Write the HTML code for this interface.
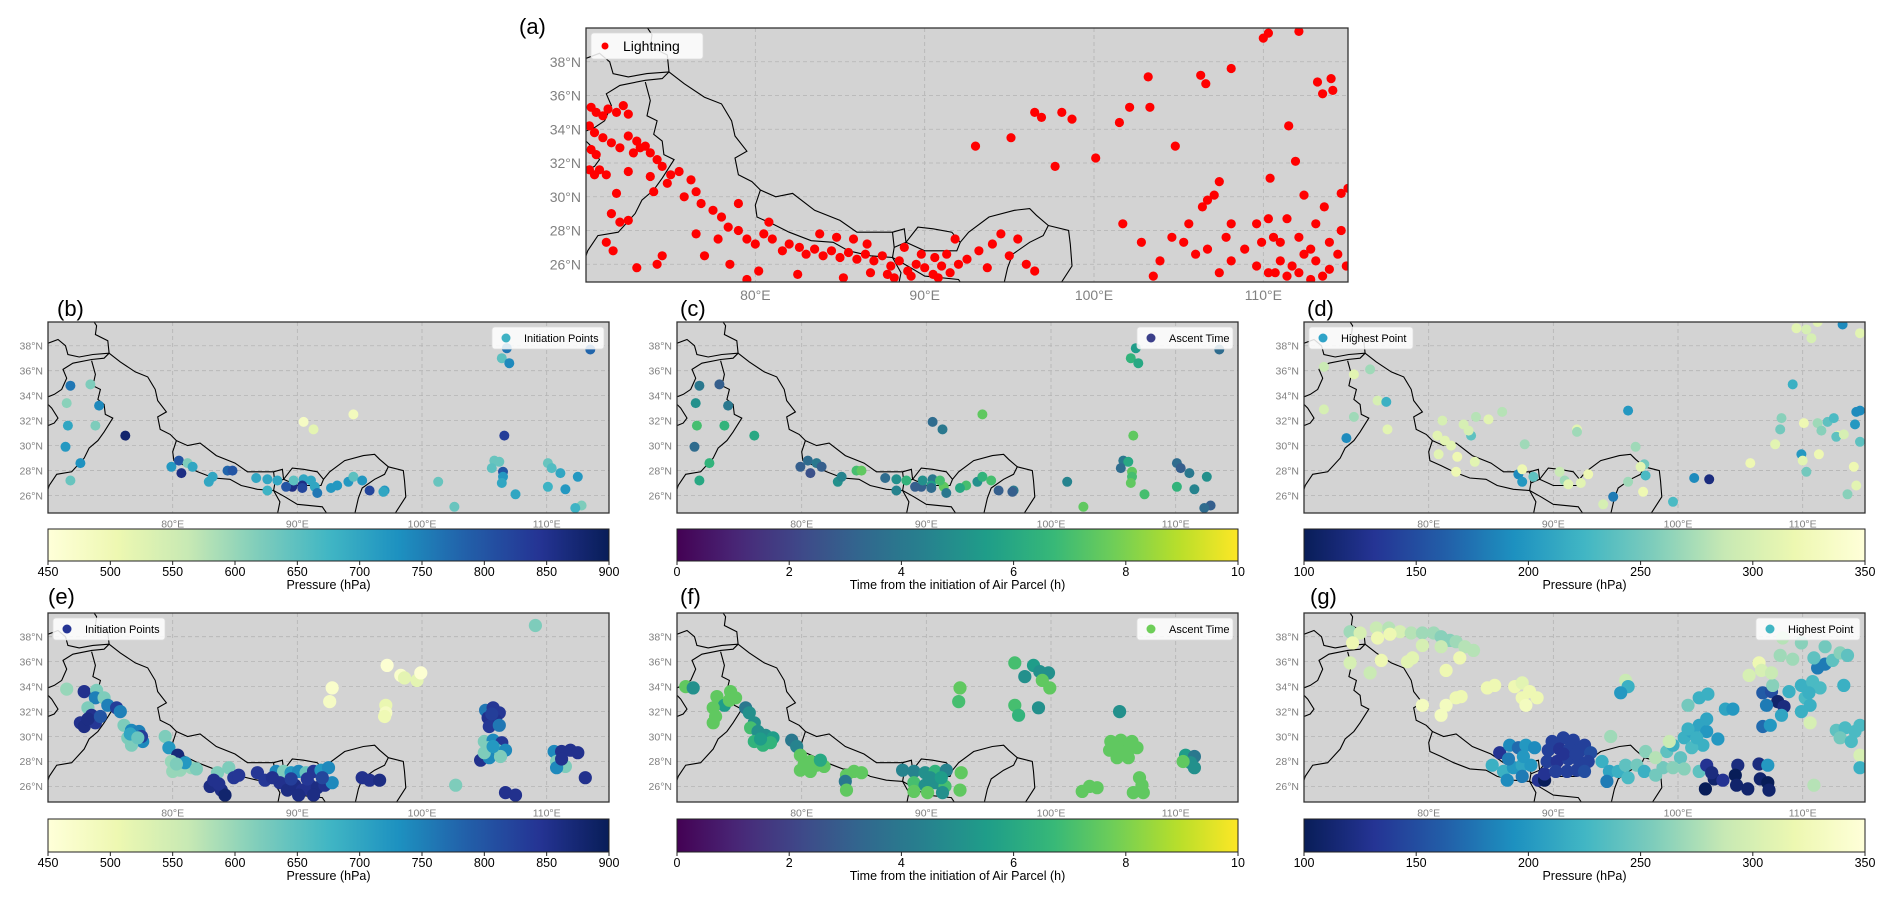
<!DOCTYPE html>
<html><head><meta charset="utf-8">
<style>
html,body{margin:0;padding:0;background:#fff;}
svg{display:block;font-family:"Liberation Sans",sans-serif;}
</style></head>
<body>
<svg id="fig" width="1892" height="903" viewBox="0 0 1892 903" xmlns="http://www.w3.org/2000/svg"></svg>
<script>
// ---------- DATA ----------
const latTicks=[26,28,30,32,34,36,38];
const lonTicks=[80,90,100,110];
const presTicksInit=[450,500,550,600,650,700,750,800,850,900];
const timeTicks=[0,2,4,6,8,10];
const presTicksHigh=[100,150,200,250,300,350];

const lightningPts=[[70.3,35.3],[70.6,35.0],[71.0,34.8],[71.3,35.2],[71.8,35.0],[72.2,35.4],[72.5,34.9],[70.2,34.2],[70.5,33.8],[71.0,33.5],[70.3,32.8],[70.6,32.5],[71.5,33.2],[72.0,32.9],[72.5,33.6],[73.0,33.3],[73.5,33.0],[73.8,32.6],[74.2,32.2],[74.5,31.8],[75.0,31.3],[74.8,30.8],[70.2,31.6],[70.5,31.3],[70.8,31.6],[71.2,31.3],[71.8,30.2],[72.5,31.5],[73.8,31.2],[74.0,30.3],[75.5,31.5],[76.2,31.0],[75.8,30.0],[76.5,30.3],[76.8,29.6],[71.5,29.0],[72.0,28.5],[71.2,27.3],[71.6,26.8],[74.5,26.5],[74.2,26.0],[73.0,25.8],[72.5,28.6],[72.8,32.6],[73.2,32.9],
[77.5,29.2],[78.0,28.8],[78.4,28.2],[79.0,28.0],[79.5,27.5],[80.0,27.2],[80.5,27.8],[81.0,27.5],[81.6,26.8],[82.0,27.2],[82.6,27.0],[83.0,26.6],[83.5,26.9],[84.0,26.5],[84.5,26.8],[85.0,26.4],[85.5,26.7],[86.0,26.3],[86.5,26.6],[87.0,26.2],[87.5,26.5],[88.0,25.9],[88.5,26.2],[89.0,25.6],[89.5,26.0],[90.0,25.8],[90.5,25.4],[91.0,25.9],[91.5,25.5],[92.0,26.0],[89.8,26.6],[90.6,26.4],[91.3,26.6],[85.2,25.2],[86.8,25.5],[88.2,25.2],[82.5,25.4],[80.2,25.6],[78.5,26.0],[77.0,26.5],[79.5,25.1],[83.8,27.8],[84.8,27.6],[85.8,27.5],[86.6,27.2],[92.5,26.3],[93.2,26.8],[94.0,27.2],[94.5,27.8],[95.0,26.5],[95.5,27.5],[96.0,26.0],[96.5,25.6],[91.8,27.5],[88.8,27.0],[93.7,25.8],[77.8,27.5],[76.5,27.8],[79.0,29.6],[80.8,28.5],[89.2,25.3],[90.8,25.2],[87.8,25.4],
[93.0,33.0],[95.1,33.5],[97.7,31.8],[98.1,35.0],[98.7,34.6],[96.5,35.0],[96.9,34.7],[100.1,32.3],[101.5,34.4],[103.3,35.3],[102.1,35.3],[103.2,37.1],[106.3,37.2],[106.6,36.7],[108.1,37.6],[110.0,39.4],[110.3,39.7],[112.1,39.8],[113.2,36.8],[113.5,36.1],[114.1,36.3],[114.0,37.0],[111.5,34.2],[111.9,32.1],[110.4,31.1],[115.0,30.5],[114.6,30.2],[104.8,33.0],
[106.7,29.8],[106.4,29.4],[105.6,28.4],[105.3,27.3],[106.0,26.6],[107.1,30.1],[107.4,30.9],[109.6,28.4],[110.6,27.6],[111.4,28.7],[112.4,30.1],[113.1,28.4],[113.6,29.4],[113.9,27.3],[114.6,28.0],[111.0,26.2],[111.7,25.9],[112.4,26.6],[113.1,26.2],[113.9,25.7],[114.4,26.6],[114.9,25.9],[110.3,25.5],[109.6,25.9],[108.9,26.9],[108.1,26.2],[107.4,25.5],[103.9,26.2],[103.5,25.3],[102.8,27.3],[101.7,28.4],[104.6,27.6],[106.7,26.9],[107.8,27.6],[109.9,27.3],[110.7,25.5],[111.4,25.3],[112.1,25.5],[112.8,25.1],[113.5,25.3],[111.0,27.3],[112.1,27.6],[112.8,26.9],[110.3,28.7],[108.1,28.4]];

const bPts=[[71.8,34.8,760],[73.4,34.9,620],[71.5,33.4,610],[74.1,33.2,740],[71.6,31.6,700],[73.8,31.6,620],[76.2,30.8,880],[71.4,29.9,720],[72.6,28.6,730],[71.8,27.2,640],[79.9,28.3,720],[80.5,28.8,800],[80.7,27.8,860],[81.2,28.6,620],[81.6,28.3,700],[82.9,27.1,700],[83.2,27.5,700],[84.4,28.0,780],[84.8,28.0,800],[87.6,27.3,700],[88.4,27.2,700],[90.5,27.3,700],[89.6,26.7,860],[90.4,26.8,860],[91.4,26.7,700],[93.2,26.8,720],[94.1,27.1,720],[94.5,27.5,650],[95.8,26.4,820],[97.0,26.4,720],[101.3,27.1,640],[90.5,31.9,480],[91.3,31.3,520],[94.5,32.5,490],[106.8,37.8,760],[106.4,37.0,650],[107.0,36.6,740],[106.6,30.8,830],[105.8,28.8,640],[106.2,28.7,640],[105.6,28.2,650],[106.5,27.9,800],[106.5,27.5,720],[86.7,27.4,700],[87.6,26.4,680],[89.1,26.7,800],[89.7,27.2,650],[90.4,26.6,820],[91.1,27.2,700],[91.6,26.2,760],[92.7,26.6,720],[95.2,27.2,720],[96.9,26.3,700],[102.6,25.1,640],[110.1,28.6,640],[110.4,28.2,660],[111.1,27.8,700],[112.5,27.5,720],[110.1,26.7,680],[111.5,26.5,720],[107.5,26.1,700],[112.8,25.2,620],[112.3,25.0,680],[113.5,37.7,780],[106.4,27.0,700]];

const cPts=[[71.8,34.8,4.0],[73.4,34.9,3.0],[71.5,33.4,5.0],[74.1,33.2,4.0],[71.6,31.6,7.0],[73.8,31.6,6.5],[76.2,30.8,6.0],[71.4,29.9,3.5],[72.6,28.6,6.5],[71.8,27.2,6.0],[79.9,28.3,3.0],[80.5,28.8,3.5],[80.7,27.8,2.5],[81.2,28.6,4.0],[81.6,28.3,3.0],[82.9,27.1,5.0],[83.2,27.5,4.5],[84.4,28.0,7.0],[84.8,28.0,7.5],[87.6,27.3,5.0],[88.4,27.2,6.5],[90.5,27.3,4.0],[89.6,26.7,3.0],[90.4,26.8,5.5],[91.4,26.7,7.5],[93.2,26.8,7.0],[94.1,27.1,5.0],[94.5,27.5,6.5],[95.8,26.4,3.0],[97.0,26.4,4.0],[101.3,27.1,4.5],[90.5,31.9,3.5],[91.3,31.3,4.0],[94.5,32.5,7.5],[106.8,37.8,5.5],[106.4,37.0,6.5],[107.0,36.6,6.0],[106.6,30.8,7.5],[105.8,28.8,4.0],[106.2,28.7,6.0],[105.6,28.2,3.5],[106.5,27.9,7.5],[106.5,27.5,7.0],[86.7,27.4,3.5],[87.6,26.4,4.5],[89.1,26.7,3.0],[89.7,27.2,5.0],[90.4,26.6,3.5],[91.1,27.2,7.0],[91.6,26.2,4.0],[92.7,26.6,6.0],[95.2,27.2,7.0],[96.9,26.3,3.0],[102.6,25.1,7.5],[110.1,28.6,3.5],[110.4,28.2,3.0],[111.1,27.8,4.0],[112.5,27.5,5.0],[110.1,26.7,6.5],[111.5,26.5,4.5],[107.5,26.1,7.0],[112.8,25.2,3.0],[112.3,25.0,3.5],[113.5,37.7,3.5],[106.4,27.0,7.5]];

const dPts=[[71.6,36.3,290],[75.3,36.1,270],[74.0,35.7,310],[71.6,32.9,300],[75.9,33.6,300],[76.6,33.5,220],[74.0,32.3,270],[76.7,31.3,310],[73.4,30.6,190],[81.1,32.0,300],[82.8,31.7,300],[83.4,30.8,240],[83.2,31.2,300],[80.7,30.8,310],[81.3,30.4,310],[81.8,30.0,310],[80.8,29.3,310],[82.3,29.1,320],[83.7,28.7,310],[83.8,32.3,280],[84.8,32.1,310],[85.9,32.7,280],[87.7,30.1,270],[82.2,27.9,320],[87.2,27.7,190],[87.5,27.1,200],[88.4,27.5,240],[87.5,28.1,320],[90.5,27.9,290],[90.9,27.2,270],[91.2,26.9,310],[92.2,27.0,310],[92.8,27.7,320],[91.9,31.3,310],[91.9,31.1,270],[96.0,32.8,200],[96.6,29.9,270],[97.3,28.5,250],[97.0,28.3,310],[97.4,27.6,230],[96.0,27.1,270],[97.2,26.3,320],[94.8,25.9,180],[94.0,25.3,300],[99.6,25.5,230],[101.3,27.4,190],[102.5,27.3,120],[105.8,28.6,320],[107.8,30.1,310],[108.2,31.3,250],[108.3,32.2,260],[109.9,29.3,200],[110.0,28.8,310],[110.3,27.9,250],[111.3,29.3,320],[110.1,31.8,320],[111.2,31.8,270],[111.5,31.2,260],[112.0,31.9,240],[112.5,32.2,230],[112.8,30.8,310],[112.7,30.7,240],[113.3,30.9,300],[114.2,31.7,200],[114.3,32.7,190],[114.6,32.8,190],[114.6,30.3,240],[114.1,28.3,320],[114.3,26.8,310],[113.6,26.1,260],[109.2,34.9,220],[113.2,39.7,190],[109.5,39.4,310],[110.3,39.3,300],[110.7,38.6,300],[111.2,39.9,310],[114.6,39.0,310]];

const ePts=[[71.5,33.8,600],[72.9,33.6,850],[73.9,33.7,620],[73.8,33.1,750],[74.5,33.1,620],[73.2,32.3,620],[73.5,31.7,850],[72.6,31.1,850],[72.9,30.8,860],[73.8,31.1,840],[74.8,32.5,750],[75.5,32.3,830],[75.8,32.0,750],[73.2,31.4,860],[74.2,31.6,800],
[76.1,30.9,620],[76.7,30.5,740],[77.3,30.4,750],[76.4,29.9,620],[77.0,29.7,620],[77.6,29.6,740],[76.7,29.3,620],[77.5,30.0,830],[76.6,30.2,700],[77.2,29.9,640],
[79.4,30.0,620],[79.7,29.1,720],[80.4,28.5,870],[79.9,28.0,600],[80.6,27.3,600],[81.5,27.5,600],[81.0,27.9,720],[81.9,27.4,620],[80.0,27.2,600],[80.3,27.8,620],
[83.0,26.0,860],[83.9,25.7,860],[84.2,25.3,880],[83.6,27.1,620],[84.5,27.5,620],[84.9,26.7,840],[85.3,26.9,840],[83.3,26.5,850],[83.7,26.2,850],
[86.8,27.1,840],[87.4,26.5,840],[88.3,27.2,740],[88.9,27.2,620],[89.5,27.1,720],[90.1,27.2,740],[90.7,27.1,640],[91.3,27.2,840],[91.9,27.3,720],[92.5,27.5,740],[88.6,26.3,850],[89.2,25.7,860],[89.8,26.1,860],[90.4,25.7,850],[91.0,26.1,850],[91.6,25.9,860],[92.2,26.1,850],[92.8,26.3,740],[90.1,25.3,860],[91.3,25.3,860],[88.0,26.7,850],[89.5,26.6,830],[90.8,26.6,840],[92.0,26.7,820],
[95.2,26.7,850],[95.8,26.5,850],[96.6,26.5,860],
[92.8,33.9,470],[92.6,32.8,480],[97.2,35.7,460],[98.3,34.9,470],[98.6,34.7,520],[99.6,34.5,520],[99.9,35.1,460],[97.1,32.5,510],[97.1,31.9,480],[97.0,31.6,500],
[105.1,32.1,760],[105.7,32.3,840],[106.2,31.9,840],[105.3,31.5,850],[105.9,31.3,850],[105.4,30.8,840],[106.2,30.9,760],[105.6,31.8,830],
[105.0,29.6,620],[105.7,29.7,740],[106.4,29.5,840],[105.3,29.1,620],[106.0,28.9,620],[106.7,28.9,740],[104.7,28.1,850],[105.4,28.3,740],[106.3,28.4,620],[105.0,28.7,620],[105.7,29.2,720],
[110.6,28.8,740],[111.2,28.8,850],[111.9,28.9,850],[112.5,28.7,850],[110.8,28.0,620],[111.5,27.6,620],[110.8,27.5,740],[111.2,28.2,850],
[113.1,26.7,850],[102.7,26.1,620],[106.7,25.5,850],[107.5,25.3,850],[109.1,38.9,620]];

const fPts=[[70.7,34.0,7.5],[71.3,33.9,5.0],[73.2,33.2,7.5],[73.8,32.5,5.5],[74.3,33.6,7.5],[74.7,33.1,7.5],[72.9,32.3,7.5],[73.1,31.6,7.5],[72.9,31.1,7.5],[75.5,32.3,4.0],[75.8,31.9,5.0],[76.2,31.1,5.0],[75.9,30.7,7.0],[76.5,30.4,5.0],[77.1,30.1,5.0],[77.7,29.9,5.5],[76.2,29.6,6.5],[76.9,29.3,6.5],[77.5,29.5,6.5],[74.2,32.9,7.5],[76.7,29.8,5.5],
[79.2,29.7,4.0],[79.6,29.2,4.5],[79.9,28.5,7.5],[80.7,28.0,7.5],[81.2,27.7,7.5],[81.8,27.6,7.5],[79.9,27.3,7.5],[80.7,27.2,7.5],[81.5,28.1,6.0],[80.2,27.8,7.5],
[83.6,26.9,7.5],[84.2,27.2,7.5],[84.8,27.1,7.5],[83.5,26.4,4.0],[83.6,25.7,7.5],
[88.1,27.3,4.5],[89.0,27.2,4.5],[89.9,27.1,5.0],[90.7,27.2,6.5],[91.6,27.3,4.5],[92.8,27.1,7.5],[89.0,26.3,7.0],[89.9,26.1,5.0],[90.7,26.3,5.0],[91.5,26.0,7.0],[89.0,25.6,7.5],[90.1,25.5,7.5],[91.3,25.5,5.0],[92.7,25.7,7.5],[90.3,26.7,5.0],[91.2,26.7,5.5],
[92.7,33.9,7.5],[92.6,32.8,7.0],[97.1,35.9,7.0],[97.9,34.8,5.0],[98.6,35.7,5.5],[99.1,35.2,5.0],[99.8,35.1,5.0],[99.3,34.5,7.5],[99.9,33.9,7.5],[97.1,32.5,7.0],[97.4,31.7,6.5],[99.0,32.3,5.0],[105.5,32.0,5.0],
[104.8,29.6,7.5],[105.6,29.7,7.5],[106.5,29.6,7.5],[104.7,28.9,7.5],[105.4,29.1,7.5],[106.2,28.9,7.5],[106.9,29.1,7.5],[105.3,28.3,7.5],[106.2,28.3,7.5],[105.8,28.6,7.5],[105.0,29.2,7.5],
[110.8,28.5,5.5],[111.5,28.4,4.0],[111.2,27.9,5.0],[111.5,27.5,5.0],[110.6,28.0,7.5],
[102.5,25.6,7.5],[103.1,26.0,7.5],[103.7,25.9,7.5],[107.1,26.7,7.5],[107.3,26.1,7.5],[107.4,25.5,7.5],[106.6,25.5,7.5]];

const gPts=[[73.7,38.4,270],[74.5,38.3,300],[75.8,38.7,290],[76.8,38.7,280],[77.7,38.4,300],[78.6,38.3,280],[79.5,38.3,270],[80.4,38.3,270],[81.0,38.0,260],[81.7,37.7,260],[82.2,37.6,270],[82.9,37.2,280],[83.6,36.9,280],[75.9,37.9,320],[76.9,38.2,320],[79.5,37.3,300],[81.0,37.2,290],[73.9,37.5,320],[73.7,35.9,300],[75.3,35.1,290],[76.2,36.1,320],[78.3,36.0,310],[78.7,36.3,310],[81.4,35.3,320],[82.5,36.3,320],
[84.7,33.9,320],[85.3,34.1,320],[86.9,34.0,320],[87.5,34.3,310],[88.1,33.6,320],[88.7,33.1,320],[87.5,33.1,320],[87.8,32.5,330],[81.0,31.7,330],[81.4,32.5,330],[82.2,33.1,320],[82.6,33.2,320],[79.5,32.5,330],
[95.8,34.5,290],[96.0,34.0,220],[95.4,33.5,200],
[85.7,28.7,130],[86.5,29.3,190],[87.2,29.1,170],[87.8,29.3,200],[88.5,29.1,190],[85.1,27.7,220],[86.0,27.2,220],[86.8,27.5,200],[87.5,27.7,210],[88.2,27.7,200],[86.3,26.5,190],[87.5,26.8,180],[88.8,26.5,130],[89.3,26.5,100],[89.3,27.0,130],[86.4,28.2,180],[87.6,28.4,200],
[89.9,29.6,140],[90.8,29.9,140],[91.6,29.7,140],[92.5,29.3,140],[89.6,28.9,140],[90.5,29.0,130],[91.3,29.0,140],[92.2,28.9,140],[93.0,28.7,150],[89.5,28.0,140],[90.3,28.0,130],[91.2,28.2,140],[92.1,28.0,140],[92.8,28.0,140],[90.2,27.2,140],[91.1,27.2,140],[91.9,27.3,140],[92.5,27.2,150],[90.8,28.6,130],[91.8,28.6,140],
[93.9,28.0,220],[94.5,27.2,210],[94.3,26.4,180],[95.2,27.2,220],[95.8,27.7,240],[96.0,26.7,230],[96.7,27.7,250],[97.4,28.8,260],[97.3,27.2,220],[98.2,26.9,250],[98.8,27.5,250],[99.1,28.8,240],[99.6,29.3,220],[100.5,29.9,220],[101.1,30.4,210],[101.7,30.9,210],[102.3,30.4,200],[102.0,29.3,220],[101.1,29.1,230],[100.2,28.3,240],[99.6,27.5,260],[98.2,28.3,280],[99.3,29.6,290],[94.6,30.0,270],[102.3,31.4,210],[103.8,32.2,210],[104.4,32.2,200],[101.7,33.1,220],[102.4,33.4,220],[100.8,32.5,250],[103.2,29.8,200],[101.7,27.2,240],[100.5,27.4,260],[100.8,30.6,220],[101.5,29.9,220],
[102.3,27.7,130],[102.9,26.6,110],[103.6,26.5,130],[102.2,25.8,100],[102.7,27.1,120],[104.8,27.7,120],[104.6,26.9,100],[105.6,25.8,110],[106.5,27.8,120],[106.6,26.6,110],[107.2,26.3,100],[107.3,25.7,110],[107.2,27.7,200],[104.7,26.1,110],
[106.8,33.5,160],[107.5,33.6,150],[108.0,32.8,110],[108.5,32.4,120],[107.1,32.5,180],[108.3,31.7,210],[106.8,30.8,170],[107.4,30.9,200],[108.9,33.6,220],[109.9,34.1,220],[110.8,34.4,230],[111.4,33.9,230],[110.2,33.1,230],[110.6,32.5,220],[109.9,32.0,220],[111.2,35.5,180],[111.8,35.8,180],[110.9,36.3,240],[112.4,36.1,240],[113.0,36.7,260],[111.8,37.2,250],[109.9,37.5,260],[108.2,36.5,270],[109.2,36.2,270],[108.4,37.9,280],[113.6,36.5,240],[113.3,34.1,220],[110.6,31.1,300],[107.6,34.1,260],[110.5,33.5,220],
[106.5,35.9,320],[105.7,34.9,300],[106.7,35.3,300],[107.5,35.1,290],
[112.7,30.5,240],[113.4,30.7,230],[114.2,30.4,230],[114.6,30.9,230],[113.0,29.9,250],[113.9,29.6,230],[114.6,28.5,300],[114.6,27.5,220],[110.9,26.1,280]];

const borders=[
[[70,38.2],[70.8,38.5],[71.4,38.0],[71.6,37.3],[72.5,37.1],[73.6,37.3],[74.9,37.4]],
[[74.9,37.4],[74.8,38.4],[73.8,38.9],[73.9,39.6],[73.5,40.2]],
[[70,33.9],[70.5,34.1],[71.1,34.5],[71.5,35.4],[71.2,36.1],[72.0,36.6],[73.5,36.9],[74.5,37.0],[74.9,37.4]],
[[70,31.6],[70.5,31.8],[70.8,32.2],[70.3,33.0],[70,33.3]],
[[73.5,36.8],[73.8,35.7],[73.6,34.8],[74.2,34.5],[74.0,33.7],[74.5,33.3],[74.6,32.5],[75.2,32.2],[74.5,31.1],[74.0,30.4],[73.3,29.8],[72.9,29.0],[71.9,27.9],[70.7,27.7],[70.1,26.8],[70,26.5]],
[[74.9,37.4],[75.8,36.7],[77.0,35.9],[78.0,35.5],[78.6,34.5],[78.8,33.6],[79.5,32.7],[78.8,32.3],[79.0,31.3],[79.8,30.9],[80.3,30.4]],
[[80.3,30.4],[81.2,30.0],[82.2,30.2],[83.5,29.2],[85.0,28.6],[86.0,27.9],[87.0,27.9],[88.1,27.9]],
[[80.3,30.4],[80.0,29.5],[80.1,28.8],[81.0,28.4],[82.0,27.9],[83.3,27.4],[84.6,27.3],[85.5,26.8],[86.8,26.5],[88.1,26.4],[88.2,27.0],[88.1,27.9]],
[[88.1,27.9],[88.8,28.1],[88.9,27.3],[88.2,27.0]],
[[88.9,27.3],[89.6,28.2],[90.5,28.1],[91.6,27.9],[92.1,27.3],[91.9,26.8],[90.0,26.8],[88.9,27.3]],
[[92.1,27.3],[92.6,27.9],[93.8,28.8],[95.3,29.2],[96.2,29.3],[96.6,28.9],[97.3,28.3],[97.0,27.7],[96.2,27.3],[95.2,26.6],[94.9,25.8],[94.6,24.5]],
[[97.3,28.3],[98.5,28.0],[98.6,27.2],[98.7,25.9],[97.8,24.5]],
[[88.1,26.4],[89.0,25.9],[90.0,25.3],[92.0,25.1],[92.4,24.5]],
[[88.1,26.4],[88.6,25.5],[88.4,24.5]]
];

const YLGNBU=["#ffffd9","#edf8b1","#c7e9b4","#7fcdbb","#41b6c4","#1d91c0","#225ea8","#253494","#081d58"];
const VIRIDIS=["#440154","#482878","#3e4989","#31688e","#26828e","#1f9e89","#35b779","#6ece58","#b5de2b","#fde725"];
function hex(c){return [parseInt(c.substr(1,2),16),parseInt(c.substr(3,2),16),parseInt(c.substr(5,2),16)];}
function cmap(stops,t){t=Math.max(0,Math.min(1,t));const n=stops.length-1;const i=Math.min(n-1,Math.floor(t*n));const f=t*n-i;const a=hex(stops[i]),b=hex(stops[i+1]);return "rgb("+a.map((v,k)=>Math.round(v+(b[k]-v)*f)).join(",")+")";}
const YLGNBU_R=YLGNBU.slice().reverse();

const NS="http://www.w3.org/2000/svg";
const svg=document.getElementById('fig');
function mk(tag,attrs,parent){const e=document.createElementNS(NS,tag);for(const k in attrs)e.setAttribute(k,attrs[k]);(parent||svg).appendChild(e);return e;}

let clipId=0;
function drawMap(p){
  const g=mk('g',{});
  
  
  const X=lon=>p.x+(lon-70)/45*p.w;
  const Y=lat=>p.y+(p.lat1-lat)/(p.lat1-p.lat0)*p.h;
  const id='clip'+(clipId++);
  const cp=mk('clipPath',{id:id},g);mk('rect',{x:p.x,y:p.y,width:p.w,height:p.h},cp);
  const bg=mk('rect',{x:p.x,y:p.y,width:p.w,height:p.h,fill:'#d3d3d3'},g);
  
  
  const inner=mk('g',{'clip-path':'url(#'+id+')'},g);
  lonTicks.forEach(l=>{mk('line',{x1:X(l),x2:X(l),y1:p.y,y2:p.y+p.h,stroke:'#b4b4b4','stroke-width':0.8,'stroke-dasharray':'4,3'},inner);});
  latTicks.forEach(l=>{mk('line',{x1:p.x,x2:p.x+p.w,y1:Y(l),y2:Y(l),stroke:'#b4b4b4','stroke-width':0.8,'stroke-dasharray':'4,3'},inner);});
  borders.forEach(b=>{const e=mk('polyline',{points:b.map(q=>X(q[0]).toFixed(1)+','+Y(q[1]).toFixed(1)).join(' '),fill:'none',stroke:'#000','stroke-width':1.1},inner);
    
    });
  p.pts.forEach(q=>{const c=mk('circle',{cx:X(q[0]).toFixed(1),cy:Y(q[1]).toFixed(1),r:p.r,fill:p.color(q),'fill-opacity':p.op||1},inner);
    
    });
  const fr=mk('rect',{x:p.x,y:p.y,width:p.w,height:p.h,fill:'none',stroke:'#333','stroke-width':1.3},g);
  
  
  latTicks.forEach(l=>{const t=mk('text',{x:p.x-5,y:Y(l)+p.fs*0.36,'font-size':p.fs,fill:'#808080','text-anchor':'end'},g);t.textContent=l+'°N';
    
    });
  lonTicks.forEach(l=>{const t=mk('text',{x:X(l),y:p.y+p.h+p.fs+4,'font-size':p.fs,fill:'#808080','text-anchor':'middle'},g);t.textContent=l+'°E';
    
    });
  const lab=mk('text',{x:p.lx,y:p.ly,'font-size':p.lfs,fill:'#000'},g);lab.textContent=p.label;
  
  
  const lg=mk('g',{},g);
  
  
  const lw=p.legW, lh=p.legH;
  const lx=p.legLeft? p.x+5 : p.x+p.w-5-lw, ly=p.y+5;
  mk('rect',{x:lx,y:ly,width:lw,height:lh,rx:3,fill:'#fff','fill-opacity':0.85,stroke:'#ddd','stroke-width':0.8},lg);
  mk('circle',{cx:lx+14,cy:ly+lh/2,r:p.legR,fill:p.legColor},lg);
  const lt=mk('text',{x:lx+32,y:ly+lh/2+p.legFs*0.36,'font-size':p.legFs,fill:'#000'},lg);lt.textContent=p.legText;
  
  
}

function drawColorbar(c){
  const g=mk('g',{});
  
  
  const gid='grad'+(clipId++);
  const defs=mk('defs',{},g);
  const lg=mk('linearGradient',{id:gid,x1:0,x2:1,y1:0,y2:0},defs);
  for(let i=0;i<=40;i++){mk('stop',{offset:(i/40),'stop-color':cmap(c.stops,i/40)},lg);}
  mk('rect',{x:c.x,y:c.y,width:c.w,height:c.h,fill:'url(#'+gid+')',stroke:'#222','stroke-width':1},g);
  const v0=c.ticks[0],v1=c.ticks[c.ticks.length-1];
  c.ticks.forEach(v=>{const xx=c.x+(v-v0)/(v1-v0)*c.w;
    mk('line',{x1:xx,x2:xx,y1:c.y+c.h,y2:c.y+c.h+4,stroke:'#222'},g);
    const t=mk('text',{x:xx,y:c.y+c.h+15,'font-size':12.5,'text-anchor':'middle',fill:'#000'},g);t.textContent=v;
    
    });
  const t=mk('text',{x:c.x+c.w/2,y:c.y+c.h+28,'font-size':12.5,'text-anchor':'middle',fill:'#000'},g);t.textContent=c.title;
  
  
}

const initColor=q=>cmap(YLGNBU,(q[2]-450)/450);
const timeColor=q=>cmap(VIRIDIS,q[2]/10);
const highColor=q=>cmap(YLGNBU_R,(q[2]-100)/250);

drawMap({name:'panel-a-lightning-map',x:586,y:28,w:762,h:254,lat0:24.95,lat1:40,pts:lightningPts,r:4.6,color:()=>'#ff0000',fs:14,label:'(a)',lx:519,ly:34,lfs:22,
  legLeft:true,legW:112,legH:26,legR:3.5,legColor:'#ff0000',legText:'Lightning',legFs:14});

const colX=[48,677,1304], W=561;
const row2={y:322,h:191,lat0:24.6,lat1:39.9}, row3={y:613,h:189,lat0:24.75,lat1:39.9};
const small={fs:10.5,lfs:22,legH:22,legR:4.5,legFs:11,r:5};

drawMap(Object.assign({},small,{name:'panel-b-initiation-map',x:colX[0],y:row2.y,w:W,h:row2.h,lat0:row2.lat0,lat1:row2.lat1,pts:bPts,color:initColor,label:'(b)',lx:57,ly:316,legLeft:false,legW:112,legColor:'#3fb2c4',legText:'Initiation Points'}));
drawMap(Object.assign({},small,{name:'panel-c-ascent-map',x:colX[1],y:row2.y,w:W,h:row2.h,lat0:row2.lat0,lat1:row2.lat1,pts:cPts,color:timeColor,label:'(c)',lx:680,ly:316,legLeft:false,legW:96,legColor:'#3b3f8a',legText:'Ascent Time'}));
drawMap(Object.assign({},small,{name:'panel-d-highest-map',x:colX[2],y:row2.y,w:W,h:row2.h,lat0:row2.lat0,lat1:row2.lat1,pts:dPts,color:highColor,label:'(d)',lx:1307,ly:316,legLeft:true,legW:104,legColor:'#2fa3c8',legText:'Highest Point'}));
drawMap(Object.assign({},small,{name:'panel-e-initiation-map',x:colX[0],y:row3.y,w:W,h:row3.h,lat0:row3.lat0,lat1:row3.lat1,pts:ePts,color:initColor,r:6.6,label:'(e)',lx:48,ly:604,legLeft:true,legW:112,legColor:'#253494',legText:'Initiation Points'}));
drawMap(Object.assign({},small,{name:'panel-f-ascent-map',x:colX[1],y:row3.y,w:W,h:row3.h,lat0:row3.lat0,lat1:row3.lat1,pts:fPts,color:timeColor,r:6.6,label:'(f)',lx:680,ly:604,legLeft:false,legW:96,legColor:'#6ece58',legText:'Ascent Time'}));
drawMap(Object.assign({},small,{name:'panel-g-highest-map',x:colX[2],y:row3.y,w:W,h:row3.h,lat0:row3.lat0,lat1:row3.lat1,pts:gPts,color:highColor,r:6.6,label:'(g)',lx:1310,ly:604,legLeft:false,legW:104,legColor:'#41b6c4',legText:'Highest Point'}));

drawColorbar({name:'colorbar-b-pressure',x:colX[0],y:529,w:W,h:32,stops:YLGNBU,ticks:presTicksInit,title:'Pressure (hPa)'});
drawColorbar({name:'colorbar-c-time',x:colX[1],y:529,w:W,h:32,stops:VIRIDIS,ticks:timeTicks,title:'Time from the initiation of Air Parcel (h)'});
drawColorbar({name:'colorbar-d-pressure',x:colX[2],y:529,w:W,h:32,stops:YLGNBU_R,ticks:presTicksHigh,title:'Pressure (hPa)'});
drawColorbar({name:'colorbar-e-pressure',x:colX[0],y:819,w:W,h:33,stops:YLGNBU,ticks:presTicksInit,title:'Pressure (hPa)'});
drawColorbar({name:'colorbar-f-time',x:colX[1],y:819,w:W,h:33,stops:VIRIDIS,ticks:timeTicks,title:'Time from the initiation of Air Parcel (h)'});
drawColorbar({name:'colorbar-g-pressure',x:colX[2],y:819,w:W,h:33,stops:YLGNBU_R,ticks:presTicksHigh,title:'Pressure (hPa)'});
</script>
</body></html>
